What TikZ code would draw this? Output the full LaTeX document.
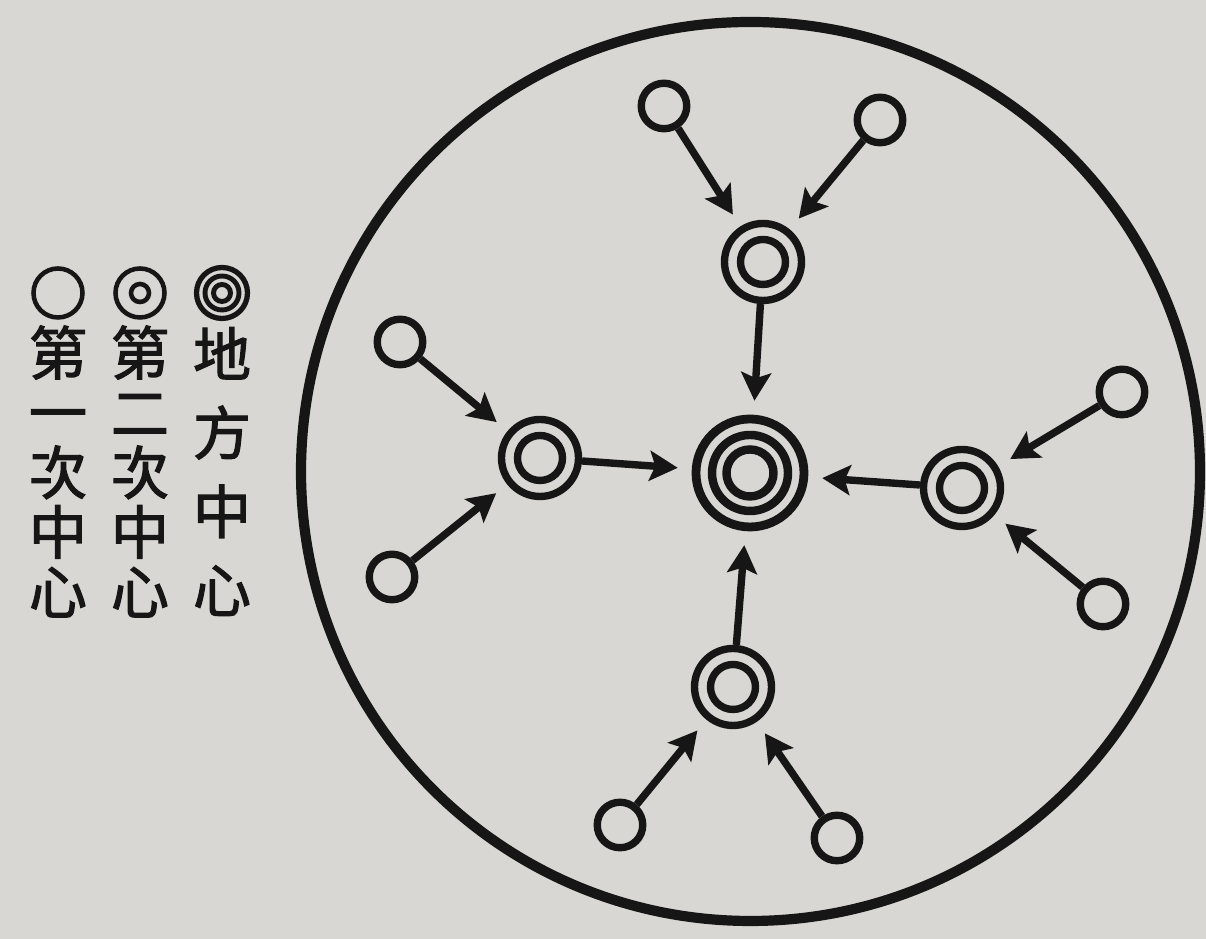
\documentclass[tikz,border=0pt]{standalone}
\usepackage{fontspec}
\usepackage{tikz}
\usetikzlibrary{arrows.meta}
\newfontfamily\cjk[FakeBold=2]{Noto Sans CJK TC}
\definecolor{paper}{RGB}{216,215,212}
\definecolor{ink}{RGB}{22,22,22}
\tikzset{
 cp first/.style={circle,draw=ink,line width=2.1pt,minimum size=.455cm,inner sep=0pt},
 cp second/.style={circle,draw=ink,line width=2.1pt,minimum size=.77cm,inner sep=0pt,
                   path picture={\draw[ink,line width=2.1pt] (path picture bounding box.center) circle (.225);}},
 cp local/.style={circle,draw=ink,line width=2.5pt,minimum size=1.08cm,inner sep=0pt,
                  path picture={\draw[ink,line width=2.4pt] (path picture bounding box.center) circle (.38) circle (.235);}},
 cp flow/.style={ink,line width=2.1pt,-{Stealth[length=8pt,width=8.5pt,inset=1.6pt]},shorten >=.14cm},
 cp region/.style={circle,draw=ink,line width=2.9pt,minimum size=8.99cm,inner sep=0pt},
 cp key/.style={circle,draw=ink,line width=1.3pt,minimum size=.49cm,inner sep=0pt},
 cp key text/.style={font=\cjk\fontsize{16.5}{17}\selectfont,align=center,text=ink,inner sep=0pt}
}
\begin{document}
\begin{tikzpicture}
 \fill[paper] (0,0) rectangle (12.06,9.39);
 \useasboundingbox (0,0) rectangle (12.06,9.39);

 % legend: one column per rank, read right to left
 \node[cp key] (k1) at (.58,6.46) {};
 \node[cp key,path picture={\draw[ink,line width=1.3pt] (path picture bounding box.center) circle (.09);}] (k2) at (1.40,6.46) {};
 \node[cp key,minimum size=.51cm,line width=1.5pt,path picture={\draw[ink,line width=1.4pt] (path picture bounding box.center) circle (.17) circle (.085);}] (k3) at (2.22,6.46) {};
 \node[cp key text] (t1) at (.58,4.675) {第\\一\\次\\中\\心};
 \node[cp key text] (t2) at (1.40,4.675) {第\\二\\次\\中\\心};
 \node[cp key text,font=\cjk\fontsize{16.5}{22.4}\selectfont] (t3) at (2.22,4.675) {地\\方\\中\\心};

 \node[cp region] (region) at (7.505,4.675) {};

 \node[cp local] (c0) at (7.50,4.66) {};
 \node[cp second] (sT) at (7.63,6.77) {};
 \node[cp second] (sL) at (5.40,4.81) {};
 \node[cp second] (sR) at (9.62,4.51) {};
 \node[cp second] (sB) at (7.33,2.52) {};

 \node[cp first] (pT1) at (6.64,8.33) {};
 \node[cp first] (pT2) at (8.80,8.19) {};
 \node[cp first] (pL1) at (4.00,5.97) {};
 \node[cp first] (pL2) at (3.92,3.62) {};
 \node[cp first] (pR1) at (11.22,5.47) {};
 \node[cp first] (pR2) at (11.03,3.35) {};
 \node[cp first] (pB1) at (6.20,1.14) {};
 \node[cp first] (pB2) at (8.37,1.01) {};

 \foreach \s in {T,L,R,B} {
  \draw[cp flow] (s\s) -- (c0);
  \draw[cp flow] (p\s1) -- (s\s);
  \draw[cp flow] (p\s2) -- (s\s);
 }
\end{tikzpicture}
\end{document}
